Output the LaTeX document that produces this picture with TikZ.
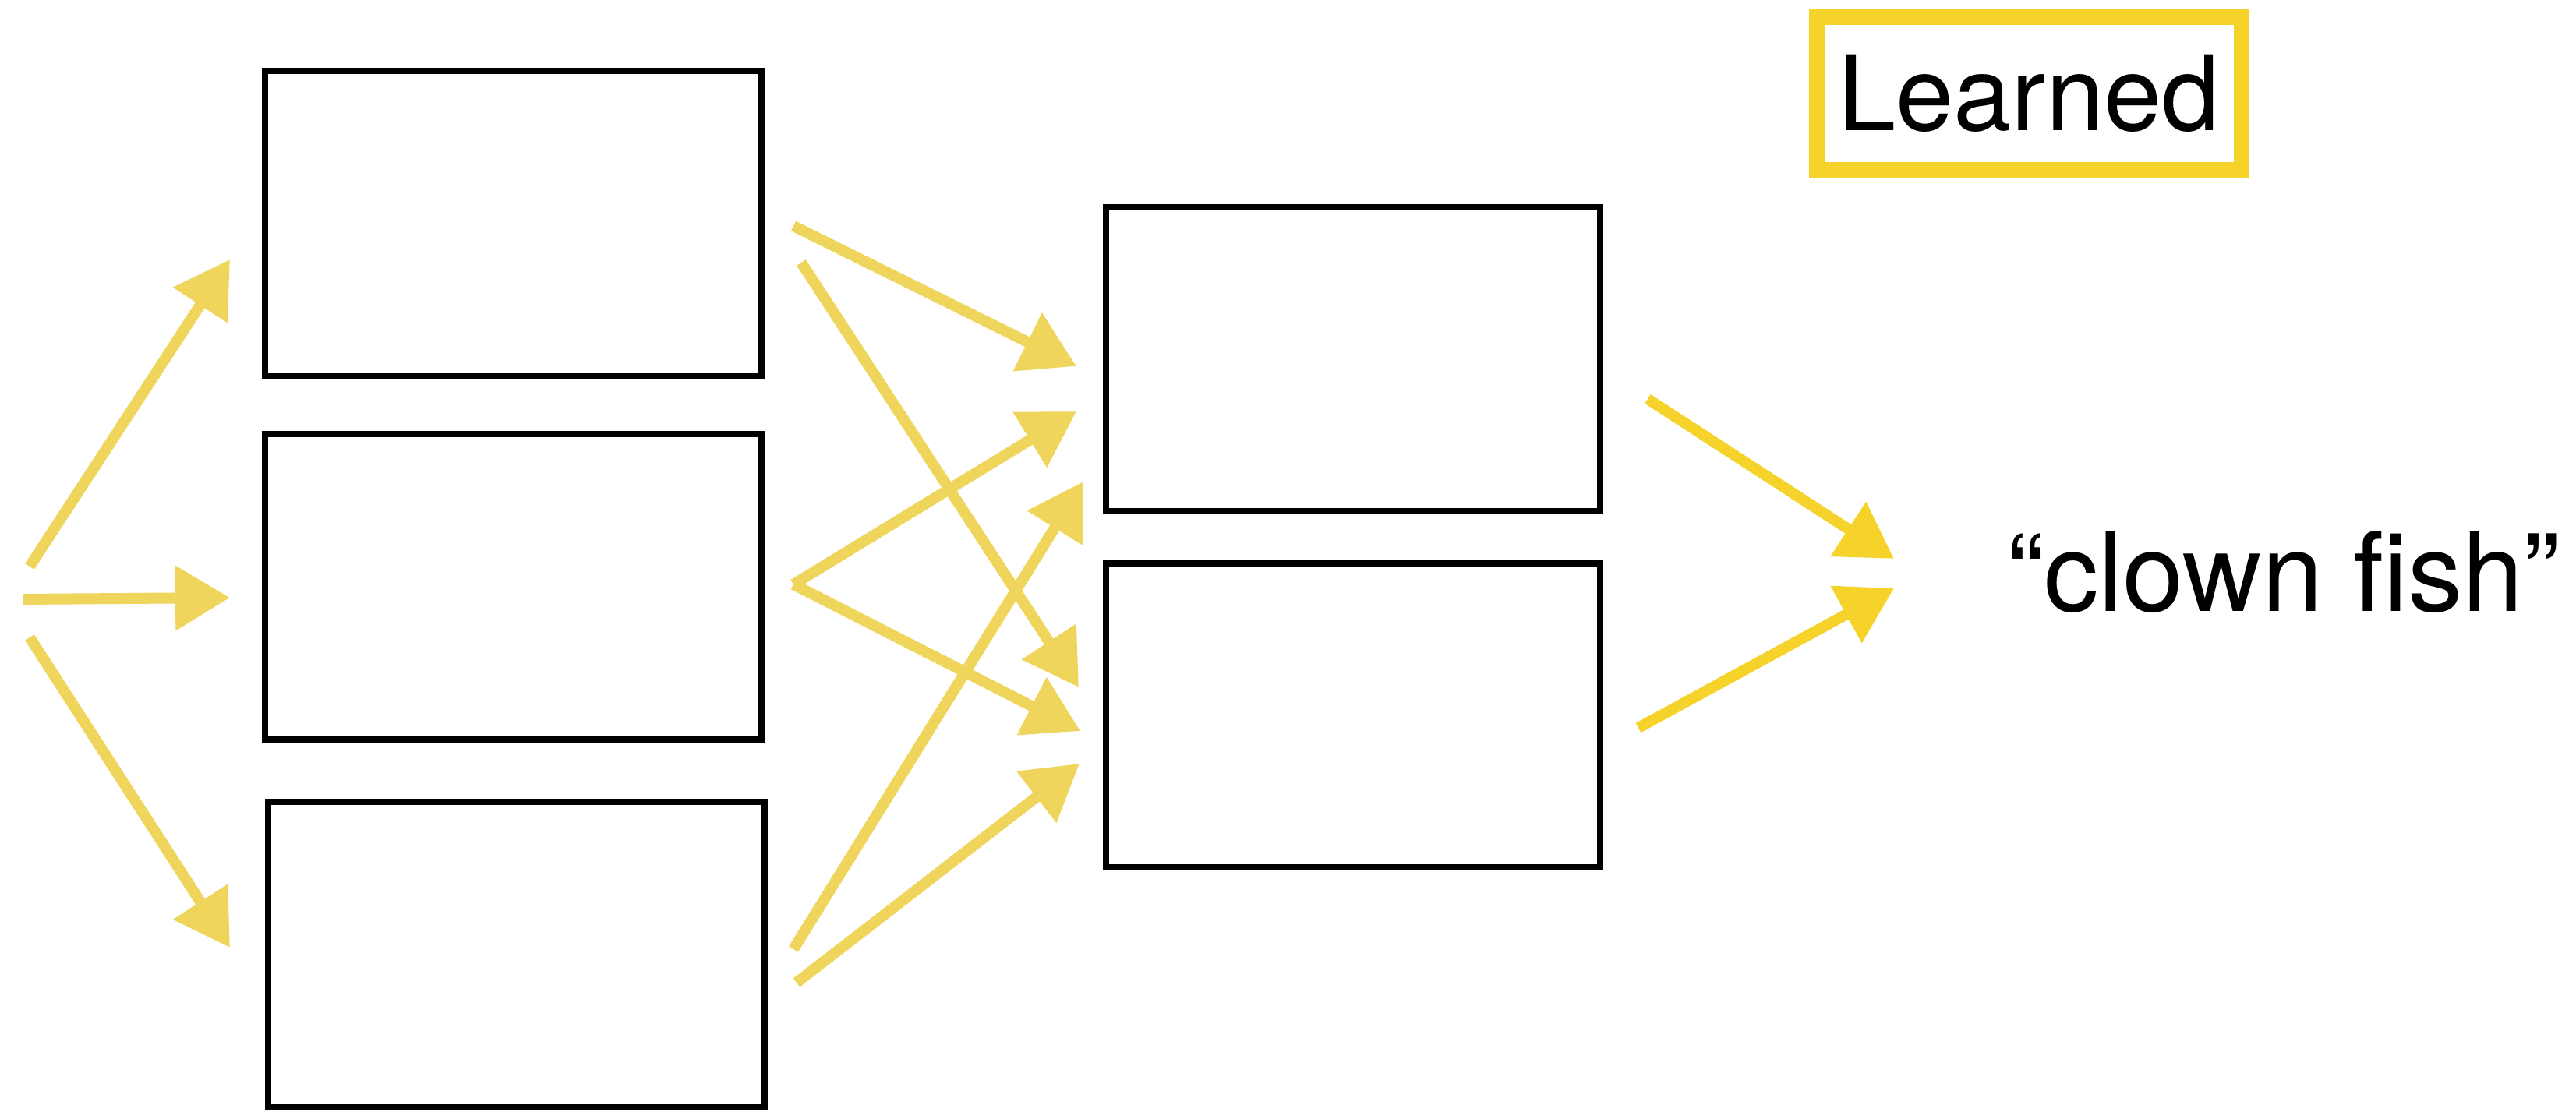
\documentclass[tikz,border=0pt]{standalone}
\usepackage{fontspec}
\setmainfont{TeX Gyre Heros}
\usetikzlibrary{arrows.meta,positioning}
\definecolor{Chalk}{HTML}{F0D55C}
\definecolor{ChalkDeep}{HTML}{F6D32B}

\begin{document}
\begin{tikzpicture}[node distance=0.66cm,
  layer/.style={draw=black, line width=0.08cm, minimum width=6.37cm,
                minimum height=3.92cm, inner sep=0pt},
  arr/.style={-{Triangle[length=7mm, width=8mm]}, line width=1.4mm, draw=Chalk},
  arrdeep/.style={arr, draw=ChalkDeep}]
  \useasboundingbox (0,0) rectangle (33.05,14.27);
  % first layer
  \node[layer] (a1) at (6.58,11.40) {};
  \node[layer, below=of a1] (a2) {};
  \node[layer, below=0.72cm of a2, xshift=0.04cm] (a3) {};
  % second layer
  \node[layer, minimum width=6.34cm, minimum height=3.90cm] (b1) at (17.36,9.66) {};
  \node[layer, minimum width=6.34cm, minimum height=3.90cm, below=0.59cm of b1] (b2) {};
  % output and legend
  \node[font=\fontsize{40}{44}\selectfont] (label) at (29.30,6.93) {“clown fish”};
  \node[draw=ChalkDeep, line width=2mm, minimum width=5.45cm, minimum height=1.96cm,
        font=\fontsize{38}{42}\selectfont] (legend) at (26.03,13.07) {Learned};

  % input fan
  \coordinate (in1) at (0.38,7.00);  \coordinate (a1in) at (2.95,10.94);
  \coordinate (in2) at (0.30,6.58);  \coordinate (a2in) at (2.95,6.60);
  \coordinate (in3) at (0.38,6.09);  \coordinate (a3in) at (2.95,2.11);
  \draw[arr] (in1) -- (a1in);
  \draw[arr] (in2) -- (a2in);
  \draw[arr] (in3) -- (a3in);

  % first to second layer
  \coordinate (a1outA) at (10.18,11.37); \coordinate (a1outB) at (10.28,10.90);
  \coordinate (a2out) at (10.18,6.77);
  \coordinate (a3outA) at (10.18,2.09);  \coordinate (a3outB) at (10.22,1.66);
  \coordinate (b1inA) at (13.81,9.57);   \coordinate (b1inB) at (13.81,8.99);
  \coordinate (b1inC) at (13.90,8.09);
  \coordinate (b2inA) at (13.84,5.45);   \coordinate (b2inB) at (13.86,4.89);
  \coordinate (b2inC) at (13.85,4.47);
  \draw[arr] (a1outA) -- (b1inA);
  \draw[arr] (a1outB) -- (b2inA);
  \draw[arr] (a2out) -- (b1inB);
  \draw[arr] (a2out) -- (b2inB);
  \draw[arr] (a3outA) -- (b1inC);
  \draw[arr] (a3outB) -- (b2inC);

  % second layer to label
  \coordinate (b1out) at (21.14,9.15); \coordinate (b2out) at (21.02,4.93);
  \coordinate (labelinA) at (24.30,7.10); \coordinate (labelinB) at (24.30,6.72);
  \draw[arrdeep] (b1out) -- (labelinA);
  \draw[arrdeep] (b2out) -- (labelinB);
\end{tikzpicture}
\end{document}
